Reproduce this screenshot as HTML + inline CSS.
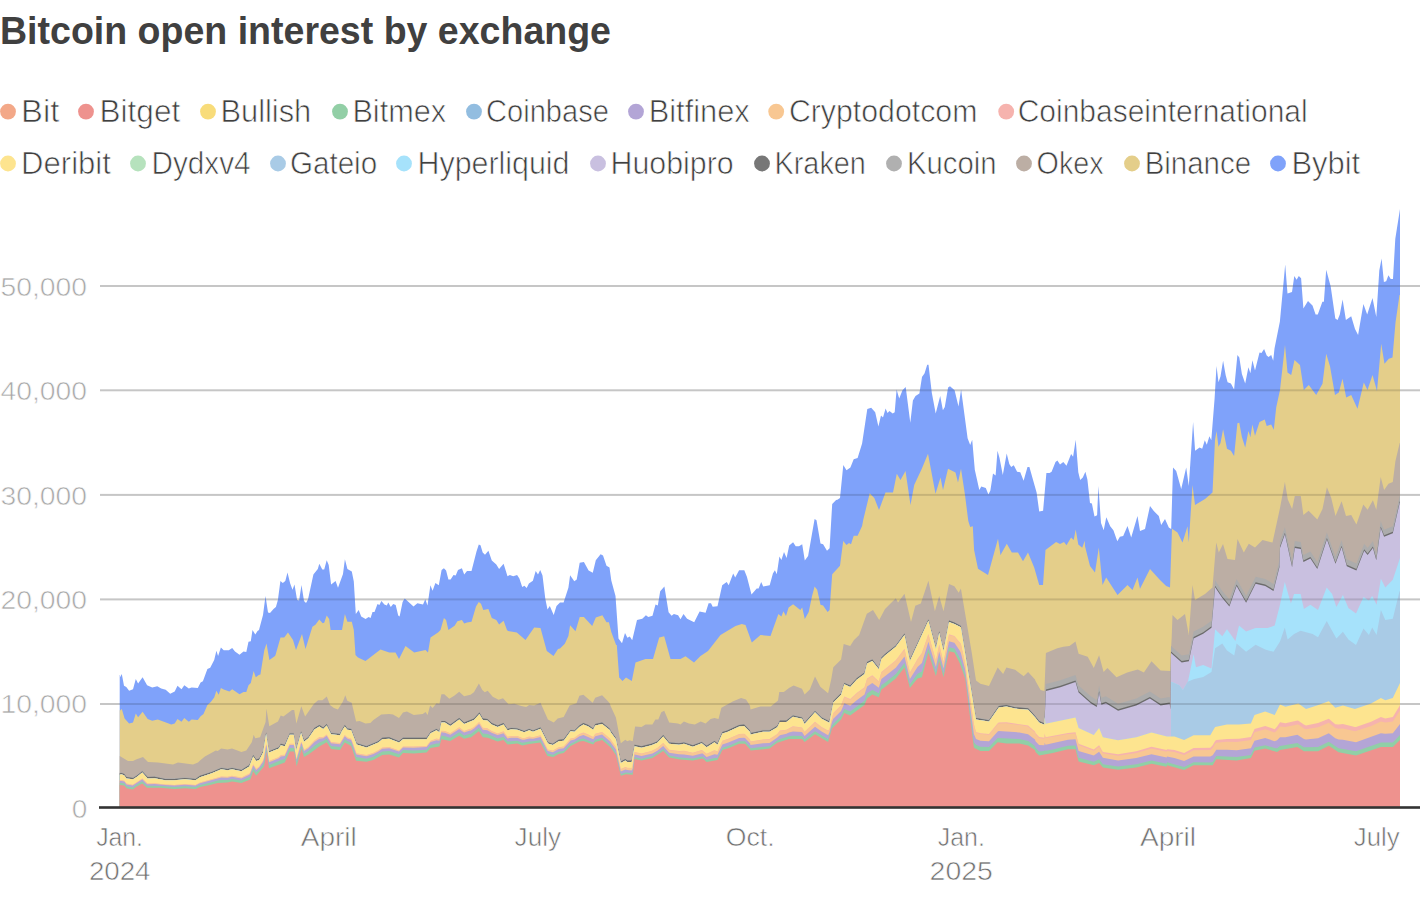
<!DOCTYPE html>
<html><head><meta charset="utf-8"><style>
html,body{margin:0;padding:0;background:#fff;}
body{width:1420px;height:922px;overflow:hidden;}
svg{display:block;font-family:"Liberation Sans",sans-serif;}
</style></head><body>
<svg width="1420" height="922" viewBox="0 0 1420 922">
<text x="0" y="43.5" font-weight="bold" font-size="39.6" fill="#404040" textLength="611" lengthAdjust="spacingAndGlyphs">Bitcoin open interest by exchange</text>
<g><circle cx="8.0" cy="111.6" r="7.9" fill="#f3a888"/>
<circle cx="86.0" cy="111.6" r="7.9" fill="#ee928e"/>
<circle cx="208.0" cy="111.6" r="7.9" fill="#f8dc7a"/>
<circle cx="340.0" cy="111.6" r="7.9" fill="#92cfa6"/>
<circle cx="474.0" cy="111.6" r="7.9" fill="#92bde0"/>
<circle cx="636.0" cy="111.6" r="7.9" fill="#b3a5d6"/>
<circle cx="776.2" cy="111.6" r="7.9" fill="#f8c792"/>
<circle cx="1006.2" cy="111.6" r="7.9" fill="#f6b3ae"/>
<circle cx="8.0" cy="163.5" r="7.9" fill="#fde48f"/>
<circle cx="138.0" cy="163.5" r="7.9" fill="#b6e2bd"/>
<circle cx="278.0" cy="163.5" r="7.9" fill="#a9cbe6"/>
<circle cx="404.0" cy="163.5" r="7.9" fill="#a6e2fb"/>
<circle cx="598.0" cy="163.5" r="7.9" fill="#c9c0e0"/>
<circle cx="762.0" cy="163.5" r="7.9" fill="#777777"/>
<circle cx="894.0" cy="163.5" r="7.9" fill="#b0b0b0"/>
<circle cx="1024.0" cy="163.5" r="7.9" fill="#bcaea4"/>
<circle cx="1132.0" cy="163.5" r="7.9" fill="#e4ce8a"/>
<circle cx="1278.0" cy="163.5" r="7.9" fill="#7fa2fa"/></g>
<g font-size="31" fill="#404040" stroke="#fff" stroke-width="0.7">
<text x="21.1" y="122.0" textLength="38.3" lengthAdjust="spacingAndGlyphs">Bit</text>
<text x="99.6" y="122.0" textLength="80.6" lengthAdjust="spacingAndGlyphs">Bitget</text>
<text x="220.4" y="122.0" textLength="90.9" lengthAdjust="spacingAndGlyphs">Bullish</text>
<text x="352.4" y="122.0" textLength="93.8" lengthAdjust="spacingAndGlyphs">Bitmex</text>
<text x="486.1" y="122.0" textLength="122.8" lengthAdjust="spacingAndGlyphs">Coinbase</text>
<text x="648.7" y="122.0" textLength="101.1" lengthAdjust="spacingAndGlyphs">Bitfinex</text>
<text x="788.9" y="122.0" textLength="188.5" lengthAdjust="spacingAndGlyphs">Cryptodotcom</text>
<text x="1017.7" y="122.0" textLength="290.0" lengthAdjust="spacingAndGlyphs">Coinbaseinternational</text>
<text x="21.1" y="174.0" textLength="89.8" lengthAdjust="spacingAndGlyphs">Deribit</text>
<text x="151.5" y="174.0" textLength="99.0" lengthAdjust="spacingAndGlyphs">Dydxv4</text>
<text x="289.9" y="174.0" textLength="87.3" lengthAdjust="spacingAndGlyphs">Gateio</text>
<text x="417.5" y="174.0" textLength="152.0" lengthAdjust="spacingAndGlyphs">Hyperliquid</text>
<text x="610.6" y="174.0" textLength="123.1" lengthAdjust="spacingAndGlyphs">Huobipro</text>
<text x="774.5" y="174.0" textLength="91.4" lengthAdjust="spacingAndGlyphs">Kraken</text>
<text x="907.0" y="174.0" textLength="89.5" lengthAdjust="spacingAndGlyphs">Kucoin</text>
<text x="1036.6" y="174.0" textLength="67.0" lengthAdjust="spacingAndGlyphs">Okex</text>
<text x="1144.7" y="174.0" textLength="106.4" lengthAdjust="spacingAndGlyphs">Binance</text>
<text x="1291.4" y="174.0" textLength="68.8" lengthAdjust="spacingAndGlyphs">Bybit</text>
</g>
<rect x="100" y="285.0" width="1320" height="2" fill="#c6c6c6"/>
<rect x="100" y="389.3" width="1320" height="2" fill="#c6c6c6"/>
<rect x="100" y="493.9" width="1320" height="2" fill="#c6c6c6"/>
<rect x="100" y="598.4" width="1320" height="2" fill="#c6c6c6"/>
<rect x="100" y="703.0" width="1320" height="2" fill="#c6c6c6"/>
<g>
<path fill="#7fa2fa" d="M119.7 807.5L119.7 675.0L120.0 675.0L120.1 677.3L121.8 673.9L124.0 685.8L126.3 686.9L129.1 690.8L133.0 689.2L135.8 679.0L138.1 683.5L142.6 677.3L147.1 685.2L152.2 687.5L157.3 686.3L161.2 688.6L165.7 689.7L170.2 693.7L174.7 691.4L177.5 685.8L181.5 689.2L184.3 685.2L188.8 688.6L191.6 687.5L197.8 688.0L200.6 682.4L202.9 681.3L207.4 668.9L210.2 667.7L214.2 659.9L216.4 650.8L218.1 655.9L220.9 647.5L223.7 650.3L228.8 650.3L232.2 648.0L235.0 651.4L239.5 654.8L243.5 651.4L246.3 652.0L248.5 641.8L250.8 641.3L252.5 630.0L255.3 634.5L257.5 631.1L259.0 630.0L263.0 615.0L265.5 596.0L268.0 612.5L270.0 613.0L273.5 609.0L275.9 607.0L277.9 600.1L280.4 580.9L282.8 582.9L285.3 580.9L287.5 572.5L290.2 583.4L292.5 589.8L294.5 584.4L297.1 600.1L299.1 600.6L301.5 584.9L304.0 601.1L306.0 603.1L308.0 599.6L313.4 574.5L317.8 569.1L319.3 563.7L322.3 569.6L324.2 569.6L326.7 560.2L328.7 565.1L331.1 584.4L335.6 580.9L338.0 587.8L343.0 574.0L344.9 559.2L347.4 569.1L351.8 571.5L353.8 581.4L355.8 613.9L358.7 610.0L361.2 616.4L365.6 618.9L368.6 616.9L370.6 617.9L372.5 612.0L374.5 612.0L377.5 604.1L379.4 605.0L381.4 601.1L384.4 604.6L386.8 605.6L388.3 602.6L390.8 607.0L393.2 604.1L395.7 605.0L398.2 615.4L399.6 616.4L402.6 602.1L404.5 598.7L405.0 598.7L413.5 606.6L417.4 603.2L423.0 604.4L425.3 599.3L427.5 605.5L430.4 585.2L432.6 590.8L435.4 583.0L438.8 585.2L441.6 570.0L443.9 568.3L446.1 570.6L448.4 579.6L450.6 579.6L453.5 575.1L455.7 575.6L458.0 570.0L461.9 568.3L464.2 574.5L467.0 571.1L471.5 571.1L476.5 551.4L478.8 544.6L480.5 545.2L482.7 552.5L485.0 554.8L488.4 550.8L491.8 560.4L496.3 564.4L499.1 568.9L503.6 563.8L507.5 576.2L509.8 575.1L513.2 576.2L517.1 575.1L519.4 578.5L522.2 586.9L524.4 585.8L526.7 588.0L528.9 583.5L532.9 580.7L535.7 571.1L538.0 574.5L540.2 570.0L542.5 575.6L545.3 598.7L547.5 609.4L549.8 606.1L553.7 615.1L556.5 606.1L560.0 602.6L563.6 602.6L568.4 587.7L570.1 575.2L574.3 581.2L576.7 579.4L579.7 562.7L583.9 562.1L588.6 570.4L592.8 572.8L595.8 560.3L600.6 554.3L603.0 555.5L606.5 565.7L609.5 567.4L611.3 580.6L615.5 596.1L618.5 638.4L622.0 643.2L625.0 633.1L627.4 637.8L629.8 636.6L632.2 640.2L637.0 619.9L642.3 618.7L645.9 615.2L648.3 617.0L652.5 615.8L655.5 604.4L657.8 605.6L660.2 591.3L664.4 586.5L668.6 612.2L671.6 615.8L673.9 614.0L678.1 615.2L680.5 619.3L683.5 614.0L687.1 618.7L694.2 622.3L699.6 611.6L705.6 612.8L708.6 603.2L711.0 603.2L712.7 606.8L717.5 606.2L722.2 585.3L726.7 582.0L728.7 585.3L733.2 573.6L735.2 577.5L739.1 570.3L744.3 570.3L746.9 576.8L751.5 594.4L756.7 588.5L758.6 588.5L761.2 582.0L763.2 586.6L769.7 585.3L772.9 573.6L774.9 570.3L776.8 574.2L779.4 556.6L781.4 559.9L784.0 552.1L786.6 557.9L789.2 545.6L793.1 542.3L795.7 546.2L799.0 546.2L802.2 544.3L804.8 560.5L808.1 556.0L814.6 518.9L816.5 520.2L820.5 543.6L823.1 544.3L827.0 550.8L829.6 548.2L832.2 503.9L836.1 500.0L837.4 499.8L840.0 498.0L843.3 465.0L846.5 470.2L850.4 467.6L853.7 459.2L857.6 457.9L862.1 443.5L867.3 409.0L871.2 407.7L875.2 412.3L878.4 426.6L881.0 415.5L883.0 417.5L885.6 408.4L887.5 412.9L889.5 411.0L892.7 413.6L894.7 412.3L896.6 389.5L899.2 398.6L902.5 390.2L905.7 386.9L910.3 422.7L912.9 400.6L915.5 396.0L919.4 393.4L922.0 377.1L924.6 373.2L927.2 364.8L928.5 364.8L931.8 392.8L935.7 413.6L940.2 396.0L942.9 410.3L944.8 407.1L948.1 387.5L950.0 386.2L954.6 390.2L958.5 406.4L961.1 389.5L967.6 438.3L970.2 445.0L972.2 439.8L974.8 469.7L979.3 489.9L981.3 486.6L985.8 487.9L988.4 494.4L990.4 490.5L993.0 473.6L995.6 475.6L997.5 450.8L999.5 458.0L1002.8 474.9L1006.7 453.4L1009.3 463.9L1011.2 467.1L1013.8 465.2L1017.1 471.7L1020.3 472.3L1023.6 480.8L1027.5 467.1L1029.4 467.1L1036.6 492.5L1039.2 511.4L1043.1 510.7L1046.4 473.0L1049.6 473.0L1051.6 471.7L1055.5 461.9L1057.4 460.6L1060.0 464.5L1063.3 461.9L1066.5 465.8L1071.1 454.1L1073.1 456.7L1075.7 439.8L1078.3 472.3L1080.2 480.1L1082.8 477.5L1085.4 471.7L1087.4 479.5L1090.0 502.9L1091.9 503.6L1094.5 516.6L1097.1 515.3L1098.4 486.0L1101.0 523.1L1103.7 530.2L1106.3 517.2L1110.2 526.3L1113.4 530.2L1117.3 541.3L1119.9 536.8L1123.2 536.1L1127.5 526.0L1131.2 537.5L1137.5 516.0L1140.0 531.0L1145.0 529.0L1150.0 506.0L1153.8 511.0L1158.8 516.0L1161.2 525.0L1165.0 519.0L1168.8 527.5L1171.2 529.0L1173.0 467.5L1176.2 471.0L1181.2 489.0L1186.2 467.5L1188.8 486.0L1193.1 422.0L1195.1 450.7L1199.6 447.4L1202.2 448.7L1204.8 440.2L1206.8 444.8L1209.4 436.3L1211.3 440.2L1214.6 398.6L1216.5 366.0L1218.5 382.3L1220.5 376.5L1223.1 360.8L1225.7 375.2L1227.6 382.3L1230.9 383.6L1234.1 389.5L1237.4 355.0L1239.3 357.6L1241.9 373.9L1245.2 383.6L1248.4 367.3L1250.4 373.2L1252.4 360.2L1255.0 370.6L1259.5 352.4L1261.5 353.0L1264.1 349.1L1266.7 355.6L1268.6 356.9L1271.2 355.0L1273.2 360.8L1274.5 348.5L1279.9 321.5L1285.2 264.5L1287.5 293.4L1292.0 291.9L1294.3 275.9L1296.6 279.7L1298.8 275.9L1301.1 278.2L1303.4 308.6L1308.0 301.0L1312.5 305.5L1315.6 314.6L1317.8 314.6L1322.4 301.7L1323.9 301.7L1326.2 269.8L1330.7 286.5L1335.3 318.4L1337.6 320.0L1339.8 314.6L1342.6 299.5L1345.9 320.0L1351.2 316.2L1355.0 329.1L1358.1 335.1L1363.4 304.0L1367.2 314.6L1372.5 297.9L1376.3 316.9L1379.3 270.6L1381.6 258.5L1383.9 282.0L1386.2 281.2L1388.4 275.2L1390.7 279.0L1393.0 279.0L1395.3 238.7L1400.0 209.1L1400.0 807.5Z"/>
<path fill="#e4ce8a" d="M119.7 807.5L119.7 710.0L120.1 710.6L121.8 708.9L124.6 718.5L129.1 723.5L133.0 722.4L135.8 713.4L138.1 717.3L142.6 711.7L147.7 719.0L152.2 720.7L157.8 719.6L171.3 724.6L174.7 723.5L177.5 719.0L181.5 721.8L184.3 717.9L188.8 721.8L191.6 719.6L197.8 720.1L200.6 716.2L203.5 713.9L207.4 704.9L210.8 702.1L214.2 697.6L216.4 690.8L218.7 694.8L220.9 688.0L223.7 689.5L229.4 691.4L232.2 689.2L239.5 694.2L243.5 692.0L246.3 692.0L248.5 685.2L250.8 683.0L253.6 671.1L255.8 677.3L258.7 675.1L260.4 674.5L264.3 650.3L266.5 643.5L269.4 659.9L275.0 655.9L275.5 655.0L280.5 637.5L284.2 637.5L288.0 632.5L293.0 640.0L296.0 650.0L302.0 634.0L305.5 649.0L312.4 626.8L315.4 624.8L319.3 619.4L322.7 623.3L324.2 622.8L326.7 615.4L329.2 618.9L330.6 630.0L342.0 630.0L344.9 613.9L347.4 621.8L351.8 621.8L353.8 630.0L355.5 655.0L358.0 657.5L365.5 661.0L380.5 649.5L389.2 652.5L395.5 652.5L399.0 659.0L405.5 646.0L414.2 652.5L425.5 650.0L428.0 652.5L430.5 637.5L438.0 632.5L440.5 630.0L443.9 617.9L446.1 620.1L448.4 630.0L454.6 625.8L457.4 621.3L461.9 620.1L464.2 623.5L467.0 622.4L471.5 621.8L476.0 606.6L478.8 602.1L481.0 603.8L483.3 610.0L488.4 608.9L491.8 617.9L496.3 620.1L499.1 624.6L503.6 620.7L507.0 630.0L508.0 631.0L516.8 632.5L525.5 640.0L534.2 627.5L540.5 628.0L546.8 651.0L553.5 656.0L558.0 649.0L560.0 648.6L564.8 643.8L568.4 636.0L570.1 625.3L575.5 631.3L579.7 617.0L583.9 617.0L592.2 625.9L595.8 617.6L602.4 615.2L606.5 622.3L608.9 622.3L611.3 631.9L616.1 645.0L616.8 645.0L619.2 677.5L622.5 681.0L626.0 677.5L631.8 681.0L635.5 662.5L645.5 659.0L653.0 659.0L659.2 637.5L664.2 636.2L670.5 659.0L680.5 659.0L685.5 656.2L694.0 662.5L700.5 656.0L708.0 651.0L720.5 635.0L735.5 626.0L741.8 624.0L745.5 625.0L751.8 642.5L760.5 635.0L770.5 636.0L778.4 614.0L781.4 616.5L783.4 611.3L786.0 615.9L788.6 607.4L793.1 604.2L800.3 610.0L802.2 607.4L804.8 619.1L808.7 612.0L812.0 596.3L814.6 586.6L817.2 589.8L820.5 604.8L823.1 605.5L827.6 612.0L829.6 610.0L832.2 574.2L840.0 565.7L843.2 541.0L846.5 544.9L849.0 543.0L851.0 544.3L853.7 535.8L857.6 535.8L862.1 526.0L863.2 520.0L869.7 493.3L874.3 497.9L879.0 510.0L885.5 492.5L893.0 492.5L896.8 473.8L900.5 480.0L905.5 471.0L910.5 505.0L914.2 485.0L921.8 468.8L928.0 453.8L935.5 493.8L940.5 477.5L943.0 490.0L948.0 468.8L955.5 472.5L958.0 482.5L961.0 468.8L965.0 495.1L968.3 521.1L970.2 527.0L972.8 526.3L974.1 550.0L978.0 568.8L988.0 575.0L998.0 538.8L1000.5 555.0L1006.8 543.8L1011.8 552.5L1018.0 552.5L1023.0 561.2L1028.0 552.5L1034.2 567.5L1039.2 585.0L1043.0 585.0L1045.5 550.0L1056.1 542.0L1060.0 544.0L1064.0 542.0L1066.5 545.2L1071.1 537.4L1073.7 540.0L1075.7 529.6L1078.3 544.6L1082.2 547.8L1084.8 540.7L1085.0 546.2L1090.0 566.0L1095.0 572.5L1098.8 547.5L1102.5 585.0L1106.2 577.5L1117.5 595.0L1127.5 585.0L1132.5 590.0L1137.5 577.5L1140.0 588.8L1150.0 569.0L1160.0 580.0L1166.2 586.0L1170.0 587.5L1172.0 528.8L1177.5 532.5L1182.5 542.5L1187.5 526.2L1188.8 542.5L1192.5 485.0L1195.0 505.0L1205.0 499.0L1212.5 492.5L1215.0 440.0L1216.5 431.1L1218.5 446.8L1220.5 442.9L1223.1 429.2L1227.0 448.7L1230.9 450.7L1234.1 455.9L1237.4 423.3L1239.3 422.7L1241.9 437.0L1245.2 447.4L1248.4 431.1L1250.4 437.0L1252.4 424.6L1255.0 435.7L1259.5 422.0L1264.7 419.4L1266.7 425.9L1271.2 424.6L1273.8 429.8L1276.2 407.5L1280.0 390.0L1285.0 345.0L1287.5 372.5L1291.2 375.0L1294.5 360.0L1300.0 365.0L1303.8 390.0L1308.8 385.0L1316.2 395.0L1322.5 383.8L1326.2 353.8L1330.0 366.2L1335.0 395.0L1338.8 392.5L1342.5 378.8L1346.2 397.5L1351.2 395.0L1357.5 408.8L1363.8 382.5L1367.5 390.0L1372.5 375.0L1377.0 391.0L1381.2 343.8L1384.5 363.8L1388.8 358.8L1392.5 357.5L1395.5 322.5L1399.5 295.0L1400.0 295.0L1400.0 807.5Z"/>
<path fill="#bcaea4" d="M119.7 807.5L119.7 756.0L128.0 761.0L133.0 761.0L136.0 759.5L143.0 757.0L148.0 762.0L158.0 762.5L173.0 764.5L178.0 762.5L193.0 764.5L198.0 762.5L200.0 760.4L204.9 756.5L215.8 750.6L217.7 751.1L221.2 748.6L227.6 749.6L232.0 748.6L241.4 752.0L246.3 750.6L251.8 742.2L253.7 734.8L255.2 738.2L260.1 737.3L265.6 722.0L266.4 708.4L269.3 726.3L278.0 721.5L280.7 715.5L283.4 716.6L292.0 710.0L294.2 710.0L296.4 723.6L301.3 706.3L305.1 716.6L313.8 704.1L318.1 700.3L322.4 700.3L326.8 696.5L330.0 705.1L333.9 708.1L337.9 709.6L342.8 701.7L345.3 695.3L347.3 700.7L351.7 702.7L356.1 721.4L359.6 720.9L365.5 723.4L370.4 722.9L373.4 719.9L381.3 714.5L389.2 714.0L393.0 714.5L399.0 718.0L403.0 712.5L406.9 711.5L413.8 715.0L422.7 714.0L425.6 712.0L427.6 715.0L430.1 705.6L432.6 708.0L436.5 703.2L439.4 703.7L441.4 694.3L444.3 694.3L449.3 698.7L454.2 695.8L459.2 691.8L464.1 696.3L470.5 694.8L473.9 692.3L478.9 683.5L482.3 689.9L484.8 692.3L487.7 690.8L492.7 696.8L498.6 699.7L503.0 698.2L508.5 704.2L514.4 703.7L521.3 706.1L526.2 707.1L529.2 705.1L534.1 705.6L540.5 702.7L547.9 719.4L553.8 722.4L557.7 718.5L563.7 717.0L569.6 705.6L576.5 703.2L579.4 695.8L583.4 694.8L592.7 702.7L595.2 697.7L602.1 695.3L608.0 701.2L610.0 703.7L610.5 705.8L615.9 717.6L620.8 743.2L625.3 739.8L627.3 741.3L629.7 740.3L632.7 741.3L635.1 726.5L641.5 727.0L645.5 724.5L652.4 724.5L655.4 719.6L658.3 719.6L661.3 712.2L664.2 710.7L669.2 722.5L678.0 723.5L680.5 724.5L683.9 721.5L688.9 723.5L694.8 724.5L700.7 721.5L705.6 723.5L710.6 719.1L714.5 718.1L718.5 719.1L721.4 707.7L733.2 701.3L741.1 697.9L746.0 699.4L750.0 705.8L750.5 709.6L760.4 706.4L770.8 706.4L778.0 700.5L779.3 692.0L783.8 692.0L789.0 688.1L793.6 685.5L802.0 688.8L804.6 694.6L809.8 689.4L815.0 676.4L820.3 686.8L828.1 693.3L831.3 679.0L833.3 667.3L841.1 659.5L843.7 643.9L850.2 645.9L854.0 640.0L859.2 635.0L866.8 613.8L873.0 610.0L879.2 620.0L885.0 609.0L895.8 598.2L898.0 602.5L904.5 593.8L911.0 622.0L915.3 605.8L920.8 603.6L928.4 580.8L934.9 611.2L939.2 596.0L943.5 611.2L949.0 584.1L954.4 586.3L958.7 592.8L960.9 588.4L971.7 652.4L976.0 680.6L980.4 683.8L989.0 686.0L997.7 667.6L1003.1 674.1L1006.4 667.6L1015.1 669.7L1023.7 676.2L1028.1 671.9L1035.0 679.5L1035.5 681.0L1040.6 690.1L1044.4 690.9L1045.9 652.9L1057.3 648.3L1063.4 646.8L1069.5 646.0L1075.5 641.5L1078.6 653.7L1087.7 656.7L1093.8 668.1L1099.1 655.2L1103.6 671.9L1107.4 668.1L1116.5 677.2L1127.2 672.6L1137.8 669.6L1143.9 672.6L1151.5 661.3L1160.6 670.4L1170.5 671.0L1171.0 645.9L1171.2 646.1L1171.7 637.4L1172.5 615.0L1177.5 620.0L1185.0 614.0L1188.8 635.0L1192.5 585.0L1195.0 600.0L1205.0 594.0L1212.5 587.5L1216.2 542.5L1218.8 552.5L1223.0 544.0L1227.5 559.0L1235.0 560.0L1237.5 539.0L1243.8 552.5L1248.8 543.8L1255.0 547.5L1262.5 540.0L1272.5 542.5L1280.0 508.1L1284.9 482.1L1287.8 499.4L1292.1 509.0L1294.8 496.0L1300.8 496.0L1303.4 515.0L1308.6 510.7L1317.3 519.4L1322.5 509.0L1326.9 487.3L1331.2 497.7L1335.5 515.9L1341.6 501.2L1346.0 515.9L1351.2 515.0L1356.4 524.6L1363.3 504.6L1367.6 509.8L1372.9 500.3L1376.3 509.8L1380.7 476.9L1384.1 489.9L1388.5 483.8L1392.8 482.1L1395.4 461.2L1399.7 443.0L1400.0 443.0L1400.0 807.5Z"/>
<path fill="#acacac" d="M119.7 807.5L119.7 772.7L121.5 772.3L124.3 773.4L126.5 776.5L133.1 777.3L137.0 774.8L142.3 770.6L147.6 776.5L154.6 776.2L165.2 778.3L174.3 778.3L184.9 777.3L195.5 778.3L200.0 775.2L211.8 771.3L221.2 767.3L227.6 768.3L232.0 767.3L241.4 769.3L249.3 764.4L253.2 754.5L256.2 758.9L259.2 758.0L263.1 750.6L266.1 731.8L269.0 750.6L278.9 746.6L280.8 743.2L284.8 744.2L289.7 732.8L293.7 732.8L296.1 748.6L301.1 730.8L304.0 739.7L308.4 736.3L314.4 727.4L319.3 724.4L323.2 726.9L326.7 723.5L331.1 732.3L340.0 733.3L341.8 729.3L344.8 724.4L347.3 727.8L351.2 728.3L356.6 742.6L366.5 745.6L378.3 740.6L382.3 737.2L389.2 736.7L399.0 740.6L403.0 737.2L426.6 737.2L430.6 731.3L436.5 728.3L439.4 730.3L441.4 720.4L444.9 720.4L450.3 723.9L459.2 717.5L464.1 721.9L474.0 718.0L479.4 712.0L482.8 718.0L487.3 718.5L491.7 722.4L497.6 724.9L503.5 722.4L507.5 728.3L511.4 727.3L517.3 727.8L524.2 730.3L529.2 728.3L533.0 729.8L540.5 726.8L547.9 741.6L552.8 743.1L558.7 739.2L563.7 738.7L570.6 729.3L574.5 729.8L579.4 724.9L583.4 722.4L588.3 724.4L593.2 727.8L595.2 723.4L602.1 721.9L610.0 728.3L610.5 729.9L615.9 737.3L620.8 761.0L625.3 758.5L627.3 760.0L631.7 760.0L634.6 744.2L641.5 745.7L651.4 743.2L657.3 740.8L663.2 734.4L669.2 741.8L679.0 742.7L684.0 741.8L692.8 744.7L701.7 741.3L706.6 745.2L714.5 740.3L717.5 742.7L722.4 731.4L727.3 729.9L739.2 724.5L744.1 724.0L750.0 729.9L750.5 732.4L763.0 729.8L769.5 729.8L777.3 725.2L779.9 720.0L786.4 720.0L792.9 714.8L802.0 716.8L804.6 722.0L815.0 710.3L821.6 716.8L829.4 720.7L833.3 700.5L841.1 692.7L844.3 682.3L850.2 684.9L856.7 677.7L864.5 671.9L867.1 661.5L872.3 658.9L878.8 667.3L881.4 656.9L885.0 653.5L895.8 644.8L904.5 632.9L909.9 658.9L928.4 618.8L935.9 647.0L939.2 630.7L943.5 649.1L949.0 619.9L954.4 622.0L960.9 625.3L976.0 717.4L989.0 719.6L998.8 705.5L1006.4 704.4L1015.1 706.6L1028.1 707.7L1035.0 715.2L1039.1 720.5L1044.4 722.7L1045.9 684.0L1060.4 680.2L1075.5 674.9L1078.6 685.5L1090.7 696.2L1096.8 700.0L1099.1 685.5L1101.4 697.7L1105.9 696.2L1118.1 703.8L1136.3 698.4L1149.9 691.6L1160.6 698.4L1169.7 696.9L1170.5 702.5L1171.0 645.9L1181.7 655.4L1188.9 654.2L1193.6 631.6L1203.2 626.8L1211.5 620.8L1215.1 580.3L1222.3 591.0L1229.4 599.4L1236.6 579.1L1246.1 595.8L1255.6 576.7L1265.2 579.1L1273.5 583.9L1279.5 560.0L1280.0 541.1L1284.9 527.2L1292.1 560.2L1294.8 541.1L1300.8 541.9L1303.4 555.0L1310.4 551.5L1317.3 561.9L1326.9 532.4L1335.5 556.7L1341.6 540.2L1346.8 559.3L1356.4 563.6L1364.2 543.7L1367.6 548.0L1372.9 541.1L1376.3 553.2L1380.7 521.1L1384.1 529.8L1392.8 526.3L1399.7 495.9L1400.0 495.9L1400.0 807.5Z"/>
<path fill="#6c6c6c" d="M119.7 807.5L119.7 773.3L121.5 772.9L124.3 774.0L126.5 777.1L133.1 777.9L137.0 775.4L142.3 771.2L147.6 777.1L154.6 776.8L165.2 778.9L174.3 778.9L184.9 777.9L195.5 778.9L200.0 775.8L211.8 771.9L221.2 767.9L227.6 768.9L232.0 767.9L241.4 769.9L249.3 765.0L253.2 755.1L256.2 759.5L259.2 758.6L263.1 751.2L266.1 732.4L269.0 751.2L278.9 747.2L280.8 743.8L284.8 744.8L289.7 733.4L293.7 733.4L296.1 749.2L301.1 731.4L304.0 740.3L308.4 736.9L314.4 728.0L319.3 725.0L323.2 727.5L326.7 724.1L331.1 732.9L340.0 733.9L341.8 729.9L344.8 725.0L347.3 728.4L351.2 728.9L356.6 743.2L366.5 746.2L378.3 741.2L382.3 737.8L389.2 737.3L399.0 741.2L403.0 737.8L426.6 737.8L430.6 731.9L436.5 728.9L439.4 730.9L441.4 721.0L444.9 721.0L450.3 724.5L459.2 718.1L464.1 722.5L474.0 718.6L479.4 712.6L482.8 718.6L487.3 719.1L491.7 723.0L497.6 725.5L503.5 723.0L507.5 728.9L511.4 727.9L517.3 728.4L524.2 730.9L529.2 728.9L533.0 730.4L540.5 727.4L547.9 742.2L552.8 743.7L558.7 739.8L563.7 739.3L570.6 729.9L574.5 730.4L579.4 725.5L583.4 723.0L588.3 725.0L593.2 728.4L595.2 724.0L602.1 722.5L610.0 728.9L610.5 730.5L615.9 737.9L620.8 761.6L625.3 759.1L627.3 760.6L631.7 760.6L634.6 744.8L641.5 746.3L651.4 743.8L657.3 741.4L663.2 735.0L669.2 742.4L679.0 743.3L684.0 742.4L692.8 745.3L701.7 741.9L706.6 745.8L714.5 740.9L717.5 743.3L722.4 732.0L727.3 730.5L739.2 725.1L744.1 724.6L750.0 730.5L750.5 733.0L763.0 730.4L769.5 730.4L777.3 725.8L779.9 720.6L786.4 720.6L792.9 715.4L802.0 717.4L804.6 722.6L815.0 710.9L821.6 717.4L829.4 721.3L833.3 701.1L841.1 693.3L844.3 682.9L850.2 685.5L856.7 678.3L864.5 672.5L867.1 662.1L872.3 659.5L878.8 667.9L881.4 657.5L885.0 654.1L895.8 645.4L904.5 633.5L909.9 659.5L928.4 619.4L935.9 647.6L939.2 631.3L943.5 649.7L949.0 620.5L954.4 622.6L960.9 625.9L976.0 718.0L989.0 720.2L998.8 706.1L1006.4 705.0L1015.1 707.2L1028.1 708.3L1035.0 715.8L1039.1 721.1L1044.4 723.3L1045.9 689.5L1060.4 685.7L1075.5 680.4L1078.6 691.0L1090.7 701.7L1096.8 705.5L1099.1 691.0L1101.4 703.2L1105.9 701.7L1118.1 709.3L1136.3 703.9L1149.9 697.1L1160.6 703.9L1169.7 702.4L1170.5 708.0L1171.0 651.4L1181.7 660.9L1188.9 659.7L1193.6 637.1L1203.2 632.3L1211.5 626.3L1215.1 585.8L1222.3 596.5L1229.4 604.9L1236.6 584.6L1246.1 601.3L1255.6 582.2L1265.2 584.6L1273.5 589.4L1279.5 565.5L1280.0 546.6L1284.9 532.7L1292.1 565.7L1294.8 546.6L1300.8 547.4L1303.4 560.5L1310.4 557.0L1317.3 567.4L1326.9 537.9L1335.5 562.2L1341.6 545.7L1346.8 564.8L1356.4 569.1L1364.2 549.2L1367.6 553.5L1372.9 546.6L1376.3 558.7L1380.7 526.6L1384.1 535.3L1392.8 531.8L1399.7 501.4L1400.0 501.4L1400.0 807.5Z"/>
<path fill="#c9c0e0" d="M119.7 807.5L119.7 774.7L121.5 774.3L124.3 775.4L126.5 778.5L133.1 779.3L137.0 776.8L142.3 772.6L147.6 778.5L154.6 778.2L165.2 780.3L174.3 780.3L184.9 779.3L195.5 780.3L200.0 777.2L211.8 773.3L221.2 769.3L227.6 770.3L232.0 769.3L241.4 771.3L249.3 766.4L253.2 756.5L256.2 760.9L259.2 760.0L263.1 752.6L266.1 733.8L269.0 752.6L278.9 748.6L280.8 745.2L284.8 746.2L289.7 734.8L293.7 734.8L296.1 750.6L301.1 732.8L304.0 741.7L308.4 738.3L314.4 729.4L319.3 726.4L323.2 728.9L326.7 725.5L331.1 734.3L340.0 735.3L341.8 731.3L344.8 726.4L347.3 729.8L351.2 730.3L356.6 744.6L366.5 747.6L378.3 742.6L382.3 739.2L389.2 738.7L399.0 742.6L403.0 739.2L426.6 739.2L430.6 733.3L436.5 730.3L439.4 732.3L441.4 722.4L444.9 722.4L450.3 725.9L459.2 719.5L464.1 723.9L474.0 720.0L479.4 714.0L482.8 720.0L487.3 720.5L491.7 724.4L497.6 726.9L503.5 724.4L507.5 730.3L511.4 729.3L517.3 729.8L524.2 732.3L529.2 730.3L533.0 731.8L540.5 728.8L547.9 743.6L552.8 745.1L558.7 741.2L563.7 740.7L570.6 731.3L574.5 731.8L579.4 726.9L583.4 724.4L588.3 726.4L593.2 729.8L595.2 725.4L602.1 723.9L610.0 730.3L610.5 731.9L615.9 739.3L620.8 763.0L625.3 760.5L627.3 762.0L631.7 762.0L634.6 746.2L641.5 747.7L651.4 745.2L657.3 742.8L663.2 736.4L669.2 743.8L679.0 744.7L684.0 743.8L692.8 746.7L701.7 743.3L706.6 747.2L714.5 742.3L717.5 744.7L722.4 733.4L727.3 731.9L739.2 726.5L744.1 726.0L750.0 731.9L750.5 734.4L763.0 731.8L769.5 731.8L777.3 727.2L779.9 722.0L786.4 722.0L792.9 716.8L802.0 718.8L804.6 724.0L815.0 712.3L821.6 718.8L829.4 722.7L833.3 702.5L841.1 694.7L844.3 684.3L850.2 686.9L856.7 679.7L864.5 673.9L867.1 663.5L872.3 660.9L878.8 669.3L881.4 658.9L885.0 655.5L895.8 646.8L904.5 634.9L909.9 660.9L928.4 620.8L935.9 649.0L939.2 632.7L943.5 651.1L949.0 621.9L954.4 624.0L960.9 627.3L976.0 719.4L989.0 721.6L998.8 707.5L1006.4 706.4L1015.1 708.6L1028.1 709.7L1035.0 717.2L1039.1 722.5L1044.4 724.7L1045.9 691.0L1060.4 687.2L1075.5 681.9L1078.6 692.5L1090.7 703.2L1096.8 707.0L1099.1 692.5L1101.4 704.7L1105.9 703.2L1118.1 710.8L1136.3 705.4L1149.9 698.6L1160.6 705.4L1169.7 703.9L1170.5 709.5L1171.0 652.9L1181.7 662.4L1188.9 661.2L1193.6 638.6L1203.2 633.8L1211.5 627.8L1215.1 587.3L1222.3 598.0L1229.4 606.4L1236.6 586.1L1246.1 602.8L1255.6 583.7L1265.2 586.1L1273.5 590.9L1279.5 567.0L1280.0 548.1L1284.9 534.2L1292.1 567.2L1294.8 548.1L1300.8 548.9L1303.4 562.0L1310.4 558.5L1317.3 568.9L1326.9 539.4L1335.5 563.7L1341.6 547.2L1346.8 566.3L1356.4 570.6L1364.2 550.7L1367.6 555.0L1372.9 548.1L1376.3 560.2L1380.7 528.1L1384.1 536.8L1392.8 533.3L1399.7 502.9L1400.0 502.9L1400.0 807.5Z"/>
<path fill="#a6e2fb" d="M119.7 807.5L119.7 774.7L121.5 774.3L124.3 775.4L126.5 778.5L133.1 779.3L137.0 776.8L142.3 772.6L147.6 778.5L154.6 778.2L165.2 780.3L174.3 780.3L184.9 779.3L195.5 780.3L200.0 777.2L211.8 773.3L221.2 769.3L227.6 770.3L232.0 769.3L241.4 771.3L249.3 766.4L253.2 756.5L256.2 760.9L259.2 760.0L263.1 752.6L266.1 733.8L269.0 752.6L278.9 748.6L280.8 745.2L284.8 746.2L289.7 734.8L293.7 734.8L296.1 750.6L301.1 732.8L304.0 741.7L308.4 738.3L314.4 729.4L319.3 726.4L323.2 728.9L326.7 725.5L331.1 734.3L340.0 735.3L341.8 731.3L344.8 726.4L347.3 729.8L351.2 730.3L356.6 744.6L366.5 747.6L378.3 742.6L382.3 739.2L389.2 738.7L399.0 742.6L403.0 739.2L426.6 739.2L430.6 733.3L436.5 730.3L439.4 732.3L441.4 722.4L444.9 722.4L450.3 725.9L459.2 719.5L464.1 723.9L474.0 720.0L479.4 714.0L482.8 720.0L487.3 720.5L491.7 724.4L497.6 726.9L503.5 724.4L507.5 730.3L511.4 729.3L517.3 729.8L524.2 732.3L529.2 730.3L533.0 731.8L540.5 728.8L547.9 743.6L552.8 745.1L558.7 741.2L563.7 740.7L570.6 731.3L574.5 731.8L579.4 726.9L583.4 724.4L588.3 726.4L593.2 729.8L595.2 725.4L602.1 723.9L610.0 730.3L610.5 731.9L615.9 739.3L620.8 763.0L625.3 760.5L627.3 762.0L631.7 762.0L634.6 746.2L641.5 747.7L651.4 745.2L657.3 742.8L663.2 736.4L669.2 743.8L679.0 744.7L684.0 743.8L692.8 746.7L701.7 743.3L706.6 747.2L714.5 742.3L717.5 744.7L722.4 733.4L727.3 731.9L739.2 726.5L744.1 726.0L750.0 731.9L750.5 734.4L763.0 731.8L769.5 731.8L777.3 727.2L779.9 722.0L786.4 722.0L792.9 716.8L802.0 718.8L804.6 724.0L815.0 712.3L821.6 718.8L829.4 722.7L833.3 702.5L841.1 694.7L844.3 684.3L850.2 686.9L856.7 679.7L864.5 673.9L867.1 663.5L872.3 660.9L878.8 669.3L881.4 658.9L885.0 655.5L895.8 646.8L904.5 634.9L909.9 660.9L928.4 620.8L935.9 649.0L939.2 632.7L943.5 651.1L949.0 621.9L954.4 624.0L960.9 627.3L976.0 719.4L989.0 721.6L998.8 707.5L1006.4 706.4L1015.1 708.6L1028.1 709.7L1035.0 717.2L1039.1 722.5L1044.4 724.7L1044.7 717.0L1045.5 723.8L1075.5 717.4L1078.6 728.1L1093.8 734.9L1099.1 728.1L1102.9 737.2L1118.1 740.2L1136.3 737.2L1151.5 732.6L1167.0 736.5L1171.0 736.5L1171.2 681.7L1179.3 685.2L1182.9 690.0L1188.0 681.6L1193.6 654.2L1196.0 667.3L1203.2 665.0L1211.5 668.5L1215.1 629.2L1222.3 636.3L1227.0 629.2L1235.4 641.1L1239.0 625.6L1246.1 631.6L1255.6 628.0L1267.6 628.0L1274.7 625.6L1280.0 604.7L1284.8 581.9L1290.9 603.6L1294.1 593.9L1300.6 593.9L1303.9 609.1L1310.4 604.7L1318.0 610.1L1326.7 587.4L1332.1 593.9L1336.4 606.9L1342.9 595.0L1348.4 608.0L1356.0 613.4L1363.5 597.1L1368.9 600.4L1372.2 596.0L1376.6 604.7L1380.9 578.7L1385.3 587.4L1392.8 579.8L1400.0 558.0L1400.0 807.5Z"/>
<path fill="#a9cbe6" d="M119.7 807.5L119.7 774.7L121.5 774.3L124.3 775.4L126.5 778.5L133.1 779.3L137.0 776.8L142.3 772.6L147.6 778.5L154.6 778.2L165.2 780.3L174.3 780.3L184.9 779.3L195.5 780.3L200.0 777.2L211.8 773.3L221.2 769.3L227.6 770.3L232.0 769.3L241.4 771.3L249.3 766.4L253.2 756.5L256.2 760.9L259.2 760.0L263.1 752.6L266.1 733.8L269.0 752.6L278.9 748.6L280.8 745.2L284.8 746.2L289.7 734.8L293.7 734.8L296.1 750.6L301.1 732.8L304.0 741.7L308.4 738.3L314.4 729.4L319.3 726.4L323.2 728.9L326.7 725.5L331.1 734.3L340.0 735.3L341.8 731.3L344.8 726.4L347.3 729.8L351.2 730.3L356.6 744.6L366.5 747.6L378.3 742.6L382.3 739.2L389.2 738.7L399.0 742.6L403.0 739.2L426.6 739.2L430.6 733.3L436.5 730.3L439.4 732.3L441.4 722.4L444.9 722.4L450.3 725.9L459.2 719.5L464.1 723.9L474.0 720.0L479.4 714.0L482.8 720.0L487.3 720.5L491.7 724.4L497.6 726.9L503.5 724.4L507.5 730.3L511.4 729.3L517.3 729.8L524.2 732.3L529.2 730.3L533.0 731.8L540.5 728.8L547.9 743.6L552.8 745.1L558.7 741.2L563.7 740.7L570.6 731.3L574.5 731.8L579.4 726.9L583.4 724.4L588.3 726.4L593.2 729.8L595.2 725.4L602.1 723.9L610.0 730.3L610.5 731.9L615.9 739.3L620.8 763.0L625.3 760.5L627.3 762.0L631.7 762.0L634.6 746.2L641.5 747.7L651.4 745.2L657.3 742.8L663.2 736.4L669.2 743.8L679.0 744.7L684.0 743.8L692.8 746.7L701.7 743.3L706.6 747.2L714.5 742.3L717.5 744.7L722.4 733.4L727.3 731.9L739.2 726.5L744.1 726.0L750.0 731.9L750.5 734.4L763.0 731.8L769.5 731.8L777.3 727.2L779.9 722.0L786.4 722.0L792.9 716.8L802.0 718.8L804.6 724.0L815.0 712.3L821.6 718.8L829.4 722.7L833.3 702.5L841.1 694.7L844.3 684.3L850.2 686.9L856.7 679.7L864.5 673.9L867.1 663.5L872.3 660.9L878.8 669.3L881.4 658.9L885.0 655.5L895.8 646.8L904.5 634.9L909.9 660.9L928.4 620.8L935.9 649.0L939.2 632.7L943.5 651.1L949.0 621.9L954.4 624.0L960.9 627.3L976.0 719.4L989.0 721.6L998.8 707.5L1006.4 706.4L1015.1 708.6L1028.1 709.7L1035.0 717.2L1039.1 722.5L1044.4 724.7L1044.7 717.0L1045.5 723.8L1075.5 717.4L1078.6 728.1L1093.8 734.9L1099.1 728.1L1102.9 737.2L1118.1 740.2L1136.3 737.2L1151.5 732.6L1167.0 736.5L1171.0 736.5L1171.2 681.7L1179.3 685.2L1182.9 690.0L1187.7 681.7L1193.6 679.3L1203.2 676.9L1211.5 672.1L1215.1 648.3L1222.3 643.5L1227.0 650.6L1234.2 655.4L1236.6 643.5L1246.1 651.8L1255.6 644.7L1265.2 649.5L1273.5 651.8L1280.0 641.6L1284.8 627.5L1287.6 639.4L1294.1 634.0L1300.6 630.8L1312.6 634.0L1318.0 637.3L1326.7 621.0L1336.4 638.4L1342.9 631.8L1348.4 639.4L1356.0 644.9L1363.5 628.6L1368.9 635.1L1372.2 627.5L1376.6 635.1L1380.9 610.1L1385.3 619.9L1392.8 618.8L1399.4 591.7L1400.0 591.0L1400.0 807.5Z"/>
<path fill="#fde48f" d="M119.7 807.5L119.7 774.7L121.5 774.3L124.3 775.4L126.5 778.5L133.1 779.3L137.0 776.8L142.3 772.6L147.6 778.5L154.6 778.2L165.2 780.3L174.3 780.3L184.9 779.3L195.5 780.3L200.0 777.2L211.8 773.3L221.2 769.3L227.6 770.3L232.0 769.3L241.4 771.3L249.3 766.4L253.2 756.5L256.2 760.9L259.2 760.0L263.1 752.6L266.1 733.8L269.0 752.6L278.9 748.6L280.8 745.2L284.8 746.2L289.7 734.8L293.7 734.8L296.1 750.6L301.1 732.8L304.0 741.7L308.4 738.3L314.4 729.4L319.3 726.4L323.2 728.9L326.7 725.5L331.1 734.3L340.0 735.3L341.8 731.3L344.8 726.4L347.3 729.8L351.2 730.3L356.6 744.6L366.5 747.6L378.3 742.6L382.3 739.2L389.2 738.7L399.0 742.6L403.0 739.2L426.6 739.2L430.6 733.3L436.5 730.3L439.4 732.3L441.4 722.4L444.9 722.4L450.3 725.9L459.2 719.5L464.1 723.9L474.0 720.0L479.4 714.0L482.8 720.0L487.3 720.5L491.7 724.4L497.6 726.9L503.5 724.4L507.5 730.3L511.4 729.3L517.3 729.8L524.2 732.3L529.2 730.3L533.0 731.8L540.5 728.8L547.9 743.6L552.8 745.1L558.7 741.2L563.7 740.7L570.6 731.3L574.5 731.8L579.4 726.9L583.4 724.4L588.3 726.4L593.2 729.8L595.2 725.4L602.1 723.9L610.0 730.3L610.5 731.9L615.9 739.3L620.8 763.0L625.3 760.5L627.3 762.0L631.7 762.0L634.6 746.2L641.5 747.7L651.4 745.2L657.3 742.8L663.2 736.4L669.2 743.8L679.0 744.7L684.0 743.8L692.8 746.7L701.7 743.3L706.6 747.2L714.5 742.3L717.5 744.7L722.4 733.4L727.3 731.9L739.2 726.5L744.1 726.0L750.0 731.9L750.5 734.4L763.0 731.8L769.5 731.8L777.3 727.2L779.9 722.0L786.4 722.0L792.9 716.8L802.0 718.8L804.6 724.0L815.0 712.3L821.6 718.8L829.4 722.7L833.3 702.5L841.1 694.7L844.3 684.3L850.2 686.9L856.7 679.7L864.5 673.9L867.1 663.5L872.3 660.9L878.8 669.3L881.4 658.9L885.0 655.5L895.8 646.8L904.5 634.9L909.9 660.9L928.4 620.8L935.9 649.0L939.2 632.7L943.5 651.1L949.0 621.9L954.4 624.0L960.9 627.3L976.0 719.4L989.0 721.6L998.8 707.5L1006.4 706.4L1015.1 708.6L1028.1 709.7L1035.0 717.2L1039.1 722.5L1044.4 724.7L1044.7 717.0L1045.5 723.8L1075.5 717.4L1078.6 728.1L1093.8 734.9L1099.1 728.1L1102.9 737.2L1118.1 740.2L1136.3 737.2L1151.5 732.6L1167.0 736.5L1174.5 736.5L1184.1 740.1L1193.6 735.3L1210.3 735.3L1215.1 727.0L1227.0 724.6L1239.0 724.6L1250.9 723.4L1254.5 715.1L1265.2 711.5L1274.7 715.1L1280.0 704.5L1285.4 706.7L1298.4 703.5L1306.0 708.9L1316.9 705.6L1328.8 701.3L1335.3 707.8L1342.9 705.6L1354.9 708.9L1371.1 703.5L1380.9 698.0L1385.3 700.2L1392.8 698.0L1400.0 683.0L1400.0 807.5Z"/>
<path fill="#f6b3ae" d="M119.7 807.5L119.7 780.2L121.5 780.1L124.3 780.7L126.5 783.6L132.8 784.7L142.3 778.4L147.6 783.4L154.6 783.3L165.2 784.5L174.3 784.9L184.9 784.0L195.5 784.9L200.0 782.4L221.2 776.5L227.6 776.8L232.0 775.8L241.4 777.6L249.3 773.6L250.3 772.2L253.2 764.3L256.2 768.7L259.2 766.4L263.1 760.5L264.1 756.9L266.1 744.5L266.5 744.4L269.0 760.9L278.9 757.0L280.8 755.0L284.8 754.8L289.7 743.7L293.7 743.7L296.1 757.3L296.6 758.1L301.1 742.1L301.6 741.9L304.0 749.8L308.4 746.9L314.4 740.4L319.3 737.1L323.2 737.1L326.7 734.4L331.1 742.1L340.0 743.1L344.8 735.0L347.3 737.3L351.2 738.7L356.6 753.2L366.5 755.1L373.4 752.7L378.3 750.3L382.3 747.5L389.2 747.0L399.0 750.4L403.0 746.5L413.8 746.5L426.6 745.9L430.6 740.7L436.5 738.6L439.4 739.3L441.4 730.7L444.9 731.0L450.3 733.3L459.2 727.2L464.1 730.9L470.0 728.8L470.5 729.0L474.0 727.0L478.9 722.2L479.4 722.3L482.8 727.8L487.3 728.2L491.7 731.1L497.6 733.4L503.5 731.3L507.5 736.7L511.4 736.0L517.3 736.0L522.3 738.0L524.2 738.2L529.2 736.6L533.0 737.2L540.5 735.2L547.4 748.8L547.9 749.4L552.8 750.6L558.7 747.2L563.7 746.6L570.6 738.4L574.5 737.8L579.4 734.1L583.4 732.6L588.3 734.5L593.2 737.1L595.2 733.7L602.1 732.0L610.0 738.4L615.9 746.9L620.8 769.1L625.3 767.1L627.3 767.8L631.7 767.9L632.7 765.0L634.6 752.1L641.5 753.5L651.4 750.9L657.3 748.1L663.2 742.9L669.2 749.8L679.0 751.1L684.0 750.8L692.8 752.7L701.7 750.0L702.7 750.4L706.6 753.7L714.5 750.3L717.5 751.4L722.4 740.7L728.3 738.8L739.2 734.0L744.1 733.7L745.0 734.2L750.0 739.4L750.5 741.4L763.0 739.4L769.5 739.1L777.3 733.9L779.9 730.6L786.4 729.7L792.9 726.3L802.0 727.4L804.6 731.8L815.0 721.7L821.6 727.1L828.1 730.6L829.4 729.1L833.3 713.1L841.1 705.3L844.3 696.5L850.2 699.1L856.7 693.0L864.5 687.2L867.1 678.4L872.3 675.2L878.8 681.2L881.4 671.9L895.8 660.2L904.5 648.8L909.9 672.4L917.5 658.9L921.9 652.9L928.4 634.1L935.9 660.5L939.2 644.6L943.5 662.1L949.0 634.3L954.4 635.9L960.9 643.7L965.2 663.6L973.9 724.1L976.0 731.9L980.4 733.3L989.0 734.1L997.7 723.3L998.8 722.5L1006.4 722.3L1028.1 725.4L1035.0 731.5L1035.5 732.9L1039.1 736.9L1044.4 737.8L1044.7 733.5L1045.5 737.2L1068.0 732.9L1075.5 732.3L1078.6 743.8L1093.8 749.6L1099.1 745.2L1102.9 752.0L1118.1 754.3L1136.3 751.3L1151.5 746.8L1166.6 749.9L1167.0 749.3L1174.5 750.0L1184.1 753.0L1193.6 748.1L1210.3 747.8L1212.7 745.3L1215.1 741.1L1216.3 740.1L1227.0 738.9L1239.0 738.7L1250.9 736.9L1254.5 729.0L1265.2 725.9L1274.7 729.2L1277.1 726.6L1280.0 722.3L1285.4 723.2L1297.4 720.6L1298.4 720.7L1303.9 724.5L1306.0 725.4L1318.0 723.1L1328.8 718.7L1335.3 724.3L1338.6 724.6L1342.9 724.1L1354.9 727.0L1356.0 726.9L1371.1 721.7L1380.9 717.1L1385.3 718.4L1392.8 717.1L1400.0 705.2L1400.0 807.5Z"/>
<path fill="#f8c792" d="M119.7 807.5L119.7 780.4L121.5 780.3L124.3 780.9L126.5 783.8L132.8 784.9L142.3 778.6L147.6 783.6L154.6 783.5L165.2 784.6L174.3 785.0L184.9 784.2L195.5 785.0L200.0 782.6L221.2 776.8L227.6 777.1L232.0 776.1L241.4 777.8L249.3 773.9L250.3 772.5L253.2 764.6L256.2 769.0L259.2 766.7L263.1 760.8L264.1 757.3L266.1 744.9L266.5 744.7L269.0 761.2L278.9 757.3L280.8 755.4L284.8 755.1L289.7 744.0L293.7 744.0L296.1 757.5L296.6 758.4L301.1 742.5L301.6 742.2L304.0 750.1L308.4 747.2L314.4 740.8L319.3 737.5L323.2 737.4L326.7 734.7L331.1 742.4L340.0 743.4L344.8 735.3L347.3 737.6L351.2 739.0L356.1 752.9L356.6 753.5L366.5 755.4L373.4 753.0L378.3 750.6L382.3 747.8L389.2 747.3L399.0 750.7L403.0 746.8L413.8 746.8L426.6 746.2L430.6 741.0L436.5 738.9L439.4 739.6L441.4 731.0L444.9 731.3L450.3 733.6L459.2 727.5L464.1 731.2L470.0 729.1L470.5 729.3L474.0 727.3L478.9 722.6L479.4 722.6L482.8 728.2L487.3 728.6L491.7 731.4L497.6 733.7L503.5 731.7L507.5 736.9L511.4 736.3L517.3 736.3L522.3 738.2L524.2 738.4L529.2 736.9L533.0 737.5L540.5 735.5L547.4 749.1L547.9 749.7L552.8 750.9L558.7 747.5L563.7 746.8L570.6 738.7L574.5 738.0L579.4 734.4L583.4 732.9L588.3 734.8L593.2 737.4L595.2 734.0L602.1 732.3L610.0 738.8L615.9 747.2L620.8 769.3L625.3 767.3L627.3 768.0L631.7 768.1L632.7 765.3L634.6 752.3L641.5 753.7L651.4 751.2L657.3 748.3L663.2 743.1L669.2 750.1L679.0 751.4L684.0 751.1L692.8 753.0L701.7 750.3L702.7 750.7L706.6 754.0L714.5 750.6L717.5 751.7L722.4 741.0L728.3 739.1L739.2 734.3L744.1 734.0L745.0 734.5L750.0 739.7L750.5 741.7L763.0 739.7L769.5 739.4L777.3 734.2L779.9 731.0L786.4 730.0L792.9 726.8L802.0 727.8L804.6 732.1L815.0 722.2L821.6 727.5L828.1 731.0L829.4 729.4L833.3 713.6L841.1 705.8L844.3 697.1L850.2 699.7L856.7 693.6L864.5 687.8L867.1 679.1L872.3 675.9L878.8 681.7L881.4 672.5L895.8 660.8L904.5 649.4L909.9 673.0L917.5 659.6L921.9 653.7L928.4 634.8L935.9 661.0L939.2 645.2L943.5 662.7L949.0 634.9L954.4 636.5L960.9 644.5L965.2 664.2L973.9 725.0L976.0 732.5L980.4 733.9L989.0 734.8L997.7 724.1L998.8 723.4L1006.4 723.3L1015.1 724.6L1019.4 724.8L1028.1 726.4L1035.0 732.5L1035.5 733.9L1039.1 737.9L1044.4 738.7L1044.7 734.6L1045.5 738.1L1068.0 734.0L1075.5 733.5L1078.6 745.0L1093.8 750.8L1099.1 746.6L1102.9 753.2L1118.1 755.7L1136.3 752.9L1151.5 748.5L1166.6 751.8L1167.0 751.1L1174.5 752.0L1184.1 755.1L1193.6 750.2L1210.3 750.0L1212.7 747.9L1215.1 743.8L1216.3 742.7L1227.0 741.8L1236.6 741.9L1250.9 740.0L1254.5 732.2L1265.2 729.3L1274.7 732.5L1277.1 730.3L1280.0 726.4L1285.4 727.1L1297.4 724.5L1298.4 724.6L1303.9 728.4L1306.0 729.2L1318.0 727.3L1328.8 722.7L1335.3 728.1L1338.6 728.7L1342.9 728.4L1354.9 731.2L1356.0 731.1L1371.1 725.9L1380.9 721.5L1385.3 722.6L1392.8 721.5L1400.0 710.4L1400.0 807.5Z"/>
<path fill="#b3a5d6" d="M119.7 807.5L119.7 781.0L121.5 780.9L124.3 781.5L126.5 784.4L132.8 785.6L142.3 779.3L146.9 783.9L147.6 784.2L154.6 784.1L165.2 785.1L174.3 785.5L184.9 784.7L195.5 785.5L200.0 783.2L221.2 777.6L227.6 777.8L232.0 776.8L241.4 778.5L249.3 774.7L250.3 773.5L253.2 765.5L256.2 769.9L259.2 767.4L263.1 761.7L264.1 758.5L266.1 746.1L266.5 745.6L269.0 762.2L278.9 758.2L280.8 756.5L284.8 756.1L289.7 745.0L293.7 745.0L294.2 746.3L296.1 758.3L296.6 759.5L301.1 743.5L301.6 743.0L304.0 751.0L308.4 748.2L314.4 742.1L319.3 738.7L323.2 738.3L326.7 735.7L331.1 743.3L340.0 744.3L344.8 736.3L347.3 738.4L351.2 739.9L356.1 754.0L356.6 754.5L366.5 756.3L373.4 754.0L378.3 751.5L382.3 748.8L389.2 748.3L399.0 751.6L403.0 747.6L413.8 747.8L426.6 747.1L430.6 742.0L436.5 740.2L439.4 740.7L441.4 732.3L444.9 732.7L450.3 734.8L459.2 728.9L464.1 732.5L470.0 730.5L470.5 730.8L474.0 728.6L478.9 724.1L479.4 724.3L482.8 729.8L487.3 730.2L491.7 732.8L497.6 735.1L503.5 733.2L507.5 738.4L511.4 737.8L517.3 737.7L522.3 739.7L524.2 739.8L529.2 738.4L533.0 738.8L540.5 737.0L547.4 750.6L547.9 751.1L552.8 752.2L558.7 749.0L563.7 748.3L570.6 740.5L574.5 739.5L579.4 736.2L583.4 735.0L593.2 739.3L595.2 736.2L602.1 734.4L610.0 741.2L615.9 749.6L620.8 771.4L625.3 769.6L627.3 770.1L631.7 770.4L632.7 768.5L634.6 754.6L641.5 756.1L652.4 753.5L657.3 750.8L663.2 746.1L669.2 752.8L679.0 754.3L684.0 754.4L692.8 755.8L701.7 753.5L702.7 753.6L706.6 757.0L714.5 754.3L717.5 754.8L722.4 744.4L728.3 742.5L739.2 737.9L744.1 737.7L745.0 738.0L750.0 743.3L750.5 745.1L763.0 743.3L769.5 742.9L777.3 737.5L779.9 735.2L786.4 733.7L789.0 732.4L792.9 731.4L802.0 732.1L804.6 735.9L815.0 726.8L821.6 731.6L828.1 735.3L829.4 732.5L832.0 721.9L833.3 718.8L841.1 711.0L844.3 703.2L850.2 705.8L856.7 700.2L864.5 694.5L867.1 686.6L872.3 683.1L878.8 687.7L881.4 679.0L895.8 667.7L904.5 656.5L909.9 678.9L917.5 666.9L921.9 662.9L928.4 641.7L935.9 667.0L939.2 651.4L943.5 668.4L949.0 641.3L954.4 642.7L959.8 650.8L960.9 653.0L965.2 669.8L973.9 734.0L976.0 739.0L980.4 740.7L989.0 741.3L997.7 731.4L998.8 731.0L1019.4 732.4L1028.1 734.3L1035.0 739.6L1035.5 741.3L1039.1 745.1L1044.4 745.3L1044.7 742.8L1045.5 744.8L1068.0 739.8L1075.5 739.2L1078.6 750.9L1093.8 755.5L1099.1 751.8L1102.9 757.8L1116.5 760.2L1118.1 760.5L1136.3 758.1L1151.5 754.2L1166.6 757.6L1167.0 756.5L1174.5 758.0L1184.1 761.0L1193.6 756.4L1210.3 756.5L1212.7 755.3L1216.3 749.8L1227.0 749.8L1236.6 750.2L1250.9 748.3L1254.5 740.8L1265.2 738.1L1274.7 741.2L1277.1 740.3L1280.0 737.3L1285.4 737.2L1297.4 734.8L1303.9 738.9L1306.0 739.4L1318.0 738.3L1328.8 733.3L1335.3 738.3L1338.6 739.6L1342.9 739.8L1356.0 742.3L1380.9 733.2L1385.3 733.8L1392.8 733.2L1400.0 724.0L1400.0 807.5Z"/>
<path fill="#90cfa6" d="M119.7 807.5L119.7 782.8L124.3 783.3L126.5 786.2L132.8 787.4L136.3 784.8L142.3 781.3L146.9 785.7L147.6 785.8L160.3 786.0L174.3 787.1L184.9 786.3L195.5 787.1L200.0 784.9L209.9 782.8L217.7 780.5L221.2 780.1L227.6 780.0L232.0 779.0L241.4 780.6L249.3 777.1L250.3 776.3L253.2 768.2L256.2 772.6L259.2 769.6L263.1 764.4L264.1 762.1L266.5 748.3L269.0 765.0L278.9 761.1L280.8 759.9L284.8 759.0L289.7 748.0L293.7 748.0L294.2 748.7L296.6 762.6L301.6 745.6L304.0 753.8L308.4 751.1L314.4 745.8L319.3 742.4L323.2 741.1L326.7 738.7L331.1 746.0L340.0 747.0L344.8 739.2L347.3 741.0L351.2 742.8L356.1 757.1L366.5 758.8L373.4 756.7L382.3 751.6L389.2 751.1L399.0 754.3L403.0 750.1L413.8 750.4L426.6 749.7L430.6 744.9L436.5 743.4L439.4 743.5L441.4 735.6L444.9 736.2L450.3 737.8L459.2 732.2L464.1 735.5L470.0 733.8L470.5 734.2L478.9 727.7L482.8 733.4L487.7 734.0L497.6 738.4L503.5 736.7L507.5 741.5L517.3 740.8L522.3 742.8L529.2 741.4L533.0 741.3L540.5 740.0L547.4 753.5L552.8 754.7L558.7 751.7L563.7 750.9L570.6 743.7L574.5 742.1L579.4 739.3L583.4 738.5L593.2 742.4L595.2 739.7L602.1 737.8L610.5 745.1L615.9 752.9L620.8 774.0L625.8 772.4L631.7 772.9L632.7 772.2L634.6 757.2L641.5 758.7L652.4 756.2L663.2 749.0L669.2 755.6L680.0 757.4L692.8 758.6L702.7 756.5L706.6 759.9L714.5 758.0L717.5 757.9L722.4 747.8L728.3 745.9L739.2 741.3L745.0 741.3L750.0 746.8L750.5 748.3L769.5 746.2L777.3 740.6L779.9 739.1L789.0 736.2L792.9 735.8L802.0 736.1L804.6 739.6L815.0 731.2L828.1 739.3L832.0 725.8L833.3 723.7L841.1 715.9L844.3 708.9L850.2 711.5L864.5 700.7L867.1 693.6L872.3 689.9L878.8 693.3L881.4 685.1L885.0 682.7L895.8 674.0L904.5 663.0L909.9 684.3L917.5 673.7L921.9 671.4L928.4 648.0L935.9 672.4L939.2 657.0L943.5 673.6L949.0 647.2L954.4 648.4L959.8 658.1L960.9 660.8L965.2 674.9L973.9 742.2L976.0 744.8L980.4 746.8L989.0 747.1L997.7 737.9L1019.4 739.1L1028.1 741.1L1035.0 745.9L1035.5 747.8L1039.1 751.4L1044.4 750.9L1044.7 750.0L1045.5 750.7L1052.8 749.4L1068.0 745.8L1075.5 745.6L1078.6 757.7L1093.8 761.8L1099.1 759.2L1102.9 764.2L1118.1 766.6L1136.3 764.3L1151.5 760.5L1166.6 763.7L1167.0 762.3L1184.1 767.0L1193.6 762.3L1210.3 762.4L1212.7 762.0L1216.3 756.1L1236.6 757.1L1250.9 754.9L1254.5 747.6L1265.2 745.2L1274.7 748.0L1277.1 748.2L1280.0 746.0L1297.4 743.0L1303.9 747.3L1318.0 747.1L1328.8 741.8L1338.6 748.2L1356.0 751.3L1380.9 742.5L1392.8 742.5L1400.0 734.9L1400.0 807.5Z"/>
<path fill="#ee928e" d="M119.7 807.5L119.7 785.0L124.3 785.4L126.5 788.2L132.8 789.6L136.3 786.8L142.3 783.6L146.9 787.8L160.3 787.8L174.3 788.9L184.9 788.2L195.5 788.9L200.0 787.0L209.9 785.1L217.7 783.1L227.6 782.6L232.0 781.6L241.4 783.1L250.3 779.6L253.2 771.3L256.2 775.7L264.1 766.3L266.5 751.5L269.0 768.3L284.8 762.4L289.7 751.5L294.2 751.5L296.6 766.3L301.6 748.6L304.0 757.0L308.4 754.5L319.3 746.6L326.7 742.2L331.1 749.1L340.0 750.1L344.8 742.6L351.2 746.1L356.1 760.8L366.5 761.8L373.4 759.9L382.3 754.9L389.2 754.4L399.0 757.4L403.0 753.0L413.8 753.4L426.6 752.5L430.6 748.0L439.4 746.5L441.4 739.2L450.3 741.1L459.2 735.7L464.1 738.7L470.0 737.2L470.5 737.7L478.9 731.3L482.8 737.2L487.7 737.7L497.6 741.6L503.5 740.1L507.5 744.6L517.3 743.6L522.3 745.6L529.2 744.1L540.5 742.6L547.4 755.9L553.3 756.9L558.7 753.9L563.7 753.0L570.6 746.1L579.4 741.6L583.4 741.1L593.2 744.6L595.2 742.1L602.1 740.1L610.5 747.2L615.9 755.1L620.8 775.8L625.8 774.3L632.7 774.8L634.6 759.0L641.5 760.5L652.4 758.0L663.2 751.1L669.2 757.5L680.0 759.5L692.8 760.5L702.7 758.5L706.6 762.0L717.5 760.0L722.4 750.1L728.3 748.2L739.2 743.7L745.0 743.7L750.0 749.2L750.5 750.6L769.5 748.6L777.3 742.8L789.0 738.9L802.0 738.9L804.6 742.1L815.0 734.3L828.1 742.1L832.0 728.5L841.1 719.4L844.3 712.9L850.2 715.5L864.5 705.1L867.1 698.5L872.3 694.6L878.8 697.2L881.4 689.4L885.0 687.1L895.8 678.4L904.5 667.6L909.9 688.1L917.5 678.4L921.9 677.3L928.4 652.4L935.9 676.2L939.2 661.0L943.5 677.3L949.0 651.3L954.4 652.4L959.8 663.2L965.2 678.4L973.9 747.8L980.4 751.0L989.0 751.0L997.7 742.3L1006.4 743.4L1019.4 743.4L1028.1 745.6L1035.0 749.9L1035.5 752.0L1039.1 755.4L1052.8 753.1L1068.0 749.3L1075.5 749.3L1078.6 761.5L1093.8 765.2L1099.1 763.0L1102.9 767.5L1118.1 769.8L1136.3 767.5L1151.5 763.7L1166.6 766.8L1167.0 765.2L1184.1 769.9L1193.6 765.2L1212.7 765.2L1216.3 759.2L1236.6 760.4L1250.9 758.0L1254.5 750.8L1265.2 748.5L1277.1 752.0L1280.0 750.1L1297.4 746.9L1303.9 751.2L1318.0 751.2L1328.8 745.8L1338.6 752.3L1356.0 755.5L1380.9 746.9L1392.8 746.9L1400.0 740.0L1400.0 807.5Z"/>
</g>
<clipPath id="ac"><path d="M119.7 807.5L119.7 675.0L120.0 675.0L120.1 677.3L121.8 673.9L124.0 685.8L126.3 686.9L129.1 690.8L133.0 689.2L135.8 679.0L138.1 683.5L142.6 677.3L147.1 685.2L152.2 687.5L157.3 686.3L161.2 688.6L165.7 689.7L170.2 693.7L174.7 691.4L177.5 685.8L181.5 689.2L184.3 685.2L188.8 688.6L191.6 687.5L197.8 688.0L200.6 682.4L202.9 681.3L207.4 668.9L210.2 667.7L214.2 659.9L216.4 650.8L218.1 655.9L220.9 647.5L223.7 650.3L228.8 650.3L232.2 648.0L235.0 651.4L239.5 654.8L243.5 651.4L246.3 652.0L248.5 641.8L250.8 641.3L252.5 630.0L255.3 634.5L257.5 631.1L259.0 630.0L263.0 615.0L265.5 596.0L268.0 612.5L270.0 613.0L273.5 609.0L275.9 607.0L277.9 600.1L280.4 580.9L282.8 582.9L285.3 580.9L287.5 572.5L290.2 583.4L292.5 589.8L294.5 584.4L297.1 600.1L299.1 600.6L301.5 584.9L304.0 601.1L306.0 603.1L308.0 599.6L313.4 574.5L317.8 569.1L319.3 563.7L322.3 569.6L324.2 569.6L326.7 560.2L328.7 565.1L331.1 584.4L335.6 580.9L338.0 587.8L343.0 574.0L344.9 559.2L347.4 569.1L351.8 571.5L353.8 581.4L355.8 613.9L358.7 610.0L361.2 616.4L365.6 618.9L368.6 616.9L370.6 617.9L372.5 612.0L374.5 612.0L377.5 604.1L379.4 605.0L381.4 601.1L384.4 604.6L386.8 605.6L388.3 602.6L390.8 607.0L393.2 604.1L395.7 605.0L398.2 615.4L399.6 616.4L402.6 602.1L404.5 598.7L405.0 598.7L413.5 606.6L417.4 603.2L423.0 604.4L425.3 599.3L427.5 605.5L430.4 585.2L432.6 590.8L435.4 583.0L438.8 585.2L441.6 570.0L443.9 568.3L446.1 570.6L448.4 579.6L450.6 579.6L453.5 575.1L455.7 575.6L458.0 570.0L461.9 568.3L464.2 574.5L467.0 571.1L471.5 571.1L476.5 551.4L478.8 544.6L480.5 545.2L482.7 552.5L485.0 554.8L488.4 550.8L491.8 560.4L496.3 564.4L499.1 568.9L503.6 563.8L507.5 576.2L509.8 575.1L513.2 576.2L517.1 575.1L519.4 578.5L522.2 586.9L524.4 585.8L526.7 588.0L528.9 583.5L532.9 580.7L535.7 571.1L538.0 574.5L540.2 570.0L542.5 575.6L545.3 598.7L547.5 609.4L549.8 606.1L553.7 615.1L556.5 606.1L560.0 602.6L563.6 602.6L568.4 587.7L570.1 575.2L574.3 581.2L576.7 579.4L579.7 562.7L583.9 562.1L588.6 570.4L592.8 572.8L595.8 560.3L600.6 554.3L603.0 555.5L606.5 565.7L609.5 567.4L611.3 580.6L615.5 596.1L618.5 638.4L622.0 643.2L625.0 633.1L627.4 637.8L629.8 636.6L632.2 640.2L637.0 619.9L642.3 618.7L645.9 615.2L648.3 617.0L652.5 615.8L655.5 604.4L657.8 605.6L660.2 591.3L664.4 586.5L668.6 612.2L671.6 615.8L673.9 614.0L678.1 615.2L680.5 619.3L683.5 614.0L687.1 618.7L694.2 622.3L699.6 611.6L705.6 612.8L708.6 603.2L711.0 603.2L712.7 606.8L717.5 606.2L722.2 585.3L726.7 582.0L728.7 585.3L733.2 573.6L735.2 577.5L739.1 570.3L744.3 570.3L746.9 576.8L751.5 594.4L756.7 588.5L758.6 588.5L761.2 582.0L763.2 586.6L769.7 585.3L772.9 573.6L774.9 570.3L776.8 574.2L779.4 556.6L781.4 559.9L784.0 552.1L786.6 557.9L789.2 545.6L793.1 542.3L795.7 546.2L799.0 546.2L802.2 544.3L804.8 560.5L808.1 556.0L814.6 518.9L816.5 520.2L820.5 543.6L823.1 544.3L827.0 550.8L829.6 548.2L832.2 503.9L836.1 500.0L837.4 499.8L840.0 498.0L843.3 465.0L846.5 470.2L850.4 467.6L853.7 459.2L857.6 457.9L862.1 443.5L867.3 409.0L871.2 407.7L875.2 412.3L878.4 426.6L881.0 415.5L883.0 417.5L885.6 408.4L887.5 412.9L889.5 411.0L892.7 413.6L894.7 412.3L896.6 389.5L899.2 398.6L902.5 390.2L905.7 386.9L910.3 422.7L912.9 400.6L915.5 396.0L919.4 393.4L922.0 377.1L924.6 373.2L927.2 364.8L928.5 364.8L931.8 392.8L935.7 413.6L940.2 396.0L942.9 410.3L944.8 407.1L948.1 387.5L950.0 386.2L954.6 390.2L958.5 406.4L961.1 389.5L967.6 438.3L970.2 445.0L972.2 439.8L974.8 469.7L979.3 489.9L981.3 486.6L985.8 487.9L988.4 494.4L990.4 490.5L993.0 473.6L995.6 475.6L997.5 450.8L999.5 458.0L1002.8 474.9L1006.7 453.4L1009.3 463.9L1011.2 467.1L1013.8 465.2L1017.1 471.7L1020.3 472.3L1023.6 480.8L1027.5 467.1L1029.4 467.1L1036.6 492.5L1039.2 511.4L1043.1 510.7L1046.4 473.0L1049.6 473.0L1051.6 471.7L1055.5 461.9L1057.4 460.6L1060.0 464.5L1063.3 461.9L1066.5 465.8L1071.1 454.1L1073.1 456.7L1075.7 439.8L1078.3 472.3L1080.2 480.1L1082.8 477.5L1085.4 471.7L1087.4 479.5L1090.0 502.9L1091.9 503.6L1094.5 516.6L1097.1 515.3L1098.4 486.0L1101.0 523.1L1103.7 530.2L1106.3 517.2L1110.2 526.3L1113.4 530.2L1117.3 541.3L1119.9 536.8L1123.2 536.1L1127.5 526.0L1131.2 537.5L1137.5 516.0L1140.0 531.0L1145.0 529.0L1150.0 506.0L1153.8 511.0L1158.8 516.0L1161.2 525.0L1165.0 519.0L1168.8 527.5L1171.2 529.0L1173.0 467.5L1176.2 471.0L1181.2 489.0L1186.2 467.5L1188.8 486.0L1193.1 422.0L1195.1 450.7L1199.6 447.4L1202.2 448.7L1204.8 440.2L1206.8 444.8L1209.4 436.3L1211.3 440.2L1214.6 398.6L1216.5 366.0L1218.5 382.3L1220.5 376.5L1223.1 360.8L1225.7 375.2L1227.6 382.3L1230.9 383.6L1234.1 389.5L1237.4 355.0L1239.3 357.6L1241.9 373.9L1245.2 383.6L1248.4 367.3L1250.4 373.2L1252.4 360.2L1255.0 370.6L1259.5 352.4L1261.5 353.0L1264.1 349.1L1266.7 355.6L1268.6 356.9L1271.2 355.0L1273.2 360.8L1274.5 348.5L1279.9 321.5L1285.2 264.5L1287.5 293.4L1292.0 291.9L1294.3 275.9L1296.6 279.7L1298.8 275.9L1301.1 278.2L1303.4 308.6L1308.0 301.0L1312.5 305.5L1315.6 314.6L1317.8 314.6L1322.4 301.7L1323.9 301.7L1326.2 269.8L1330.7 286.5L1335.3 318.4L1337.6 320.0L1339.8 314.6L1342.6 299.5L1345.9 320.0L1351.2 316.2L1355.0 329.1L1358.1 335.1L1363.4 304.0L1367.2 314.6L1372.5 297.9L1376.3 316.9L1379.3 270.6L1381.6 258.5L1383.9 282.0L1386.2 281.2L1388.4 275.2L1390.7 279.0L1393.0 279.0L1395.3 238.7L1400.0 209.1L1400.0 807.5Z"/></clipPath><g clip-path="url(#ac)"><rect x="100" y="285.0" width="1320" height="2" fill="#000" fill-opacity="0.13"/><rect x="100" y="389.3" width="1320" height="2" fill="#000" fill-opacity="0.13"/><rect x="100" y="493.9" width="1320" height="2" fill="#000" fill-opacity="0.13"/><rect x="100" y="598.4" width="1320" height="2" fill="#000" fill-opacity="0.13"/><rect x="100" y="703.0" width="1320" height="2" fill="#000" fill-opacity="0.13"/></g>
<rect x="99" y="806.2" width="1321" height="2.6" fill="#333"/>
<g font-size="26" fill="#a8a8a8" stroke="#fff" stroke-width="0.6">
<text x="0.5" y="296.0" textLength="86.6" lengthAdjust="spacingAndGlyphs">50,000</text>
<text x="0.5" y="400.3" textLength="86.6" lengthAdjust="spacingAndGlyphs">40,000</text>
<text x="0.5" y="504.6" textLength="86.6" lengthAdjust="spacingAndGlyphs">30,000</text>
<text x="0.5" y="608.9" textLength="86.6" lengthAdjust="spacingAndGlyphs">20,000</text>
<text x="0.5" y="713.2" textLength="86.6" lengthAdjust="spacingAndGlyphs">10,000</text>
<text x="71.7" y="817.5" textLength="15.6" lengthAdjust="spacingAndGlyphs">0</text>
</g>
<g font-size="26.5" fill="#707070" stroke="#fff" stroke-width="0.6">
<text x="96.2" y="845.5" textLength="46.8" lengthAdjust="spacingAndGlyphs">Jan.</text>
<text x="88.9" y="879.5" textLength="61.6" lengthAdjust="spacingAndGlyphs">2024</text>
<text x="300.8" y="845.5" textLength="56.0" lengthAdjust="spacingAndGlyphs">April</text>
<text x="514.6" y="845.5" textLength="46.4" lengthAdjust="spacingAndGlyphs">July</text>
<text x="725.8" y="845.5" textLength="48.8" lengthAdjust="spacingAndGlyphs">Oct.</text>
<text x="937.8" y="845.5" textLength="47.1" lengthAdjust="spacingAndGlyphs">Jan.</text>
<text x="929.6" y="879.5" textLength="63.2" lengthAdjust="spacingAndGlyphs">2025</text>
<text x="1139.9" y="845.5" textLength="56.2" lengthAdjust="spacingAndGlyphs">April</text>
<text x="1353.8" y="845.5" textLength="45.8" lengthAdjust="spacingAndGlyphs">July</text>
</g>
</svg>
</body></html>
